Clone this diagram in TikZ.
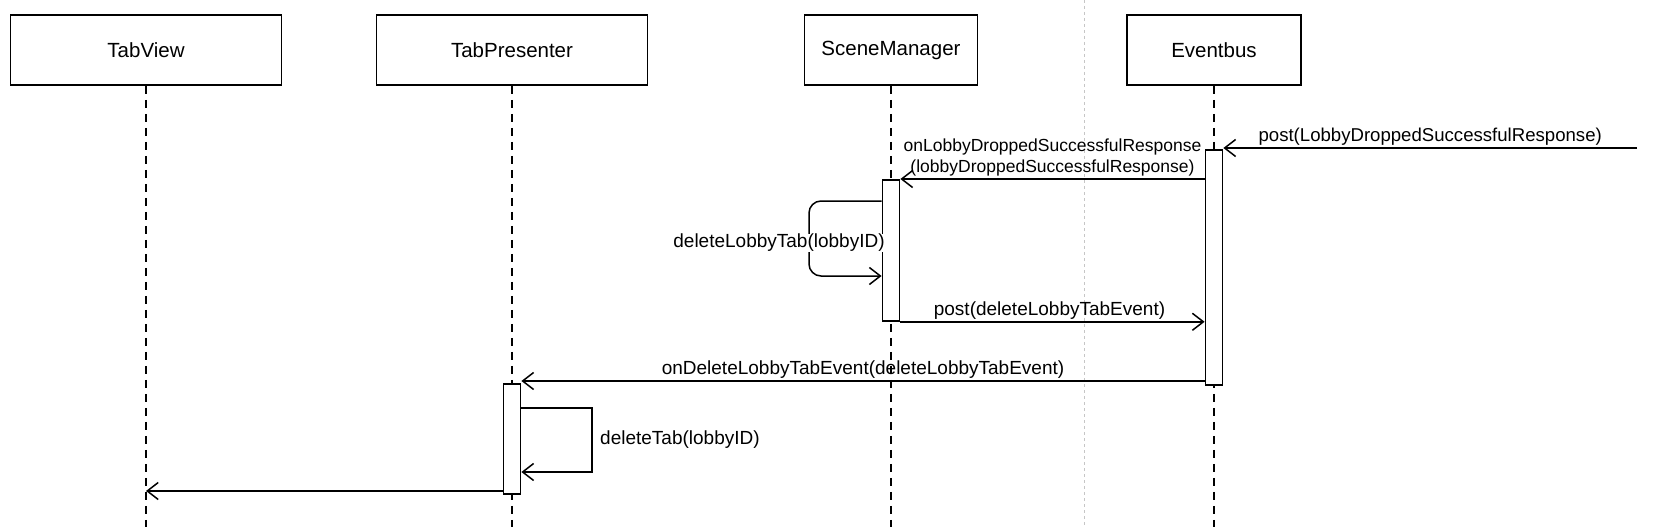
\documentclass[tikz,border=0pt]{standalone}
\usepackage{fontspec}
\setmainfont{Liberation Sans}
\usetikzlibrary{arrows.meta}
\begin{document}
\begin{tikzpicture}[x=1pt, y=-1pt,
		actor/.style={draw, line width=1.8pt, minimum height=70pt, font=\fontsize{20.5}{24}\selectfont},
		lifeline/.style={line width=1.4pt, dash pattern=on 8pt off 6pt},
		bar/.style={draw, fill=white, line width=1.8pt, minimum width=17pt, anchor=north, inner sep=0pt},
		msg/.style={line width=1.5pt, -{Straight Barb[length=11pt,width=17pt]}},
		lbl/.style={font=\fontsize{19}{22}\selectfont, inner sep=2pt}]
				\useasboundingbox (0,0) rectangle (1666,527);
				\node[actor, minimum width=271pt] (tabview) at (146,50) {TabView};
				\node[actor, minimum width=271pt] (tabpresenter) at (512,50) {TabPresenter};
				\node[actor, minimum width=173pt] (scenemanager) at (891,50) {SceneManager};
				\node[actor, minimum width=174pt] (eventbus) at (1214,50) {Eventbus};
				\foreach \n in {tabview, tabpresenter, scenemanager, eventbus}
					\draw[lifeline] (\n.south) -- (\n.south |- 0,527);
				\draw[gray!45, line width=0.8pt, dash pattern=on 3pt off 3pt] (1084,0) -- (1084,527);
				\node[bar, minimum height=235pt] (busbar) at (1214,149) {};
				\node[bar, minimum height=141pt] (scenebar) at (891,179) {};
				\node[bar, minimum height=110pt] (tabbar) at (512,383) {};
				\coordinate (outside) at (1637,148);
				\draw[msg] (outside) -- (outside -| busbar.east) node[lbl, midway, above, font=\fontsize{18.6}{22}\selectfont] {post(LobbyDroppedSuccessfulResponse)};
				\draw[msg] (busbar.west |- scenebar.north) -- (scenebar.north east) node[lbl, midway, above, align=center, font=\fontsize{17.5}{21}\selectfont] {onLobbyDroppedSuccessfulResponse\\(lobbyDroppedSuccessfulResponse)};
				\draw[msg, rounded corners=12pt] (scenebar.west |- 0,201) -- (809,201) -- (809,276) -- (scenebar.west |- 0,276);
				\node[lbl, fill=white, inner sep=0pt] (deletelobbytab) at (779,243) {deleteLobbyTab(lobbyID)};
				\draw[msg] (scenebar.south east) -- (busbar.west |- scenebar.south) node[lbl, midway, above, xshift=-3pt] {post(deleteLobbyTabEvent)};
				\draw[msg] (busbar.west |- 0,381) -- (tabbar.east |- 0,381) node[lbl, midway, above] {onDeleteLobbyTabEvent(deleteLobbyTabEvent)};
				\draw[msg] (tabbar.east |- 0,408) -- (592,408) -- (592,472) -- (tabbar.east |- 0,472);
				\node[lbl, anchor=west] (deletetab) at (598,440) {deleteTab(lobbyID)};
				\draw[msg] (tabbar.west |- 0,491) -- (tabview.south |- 0,491);
			\end{tikzpicture}
\end{document}
